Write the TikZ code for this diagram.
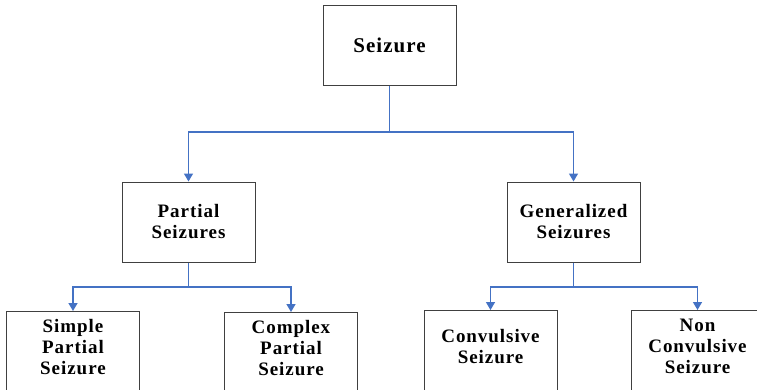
\documentclass[tikz,border=0pt]{standalone}
\usepackage{fontspec}
\setmainfont{Liberation Serif}
\newfontfamily\boxfont[LetterSpace=5]{Liberation Serif}
\usepackage{xcolor}
\definecolor{linkblue}{RGB}{68, 114, 196}
\definecolor{boxgray}{RGB}{64, 64, 64}
\usetikzlibrary{arrows.meta, positioning}

\begin{document}
\begin{tikzpicture}[x=1pt, y=-1pt, >={Triangle[width=9pt, length=8pt]},
    box/.style={draw=boxgray, line width=1pt, minimum width=133pt, minimum height=80pt, inner sep=0pt},
    leafbox/.style={box, anchor=north, minimum height=110pt},
    label text/.style={font=\boxfont\fontsize{19}{21}\selectfont\bfseries, align=center},
    link/.style={draw=linkblue, line width=1.4pt}]
    \useasboundingbox (0,0) rectangle (757,389);
    \clip (0,0) rectangle (757,389);

    % top and middle boxes
    \node[box, label text, font=\boxfont\fontsize{21}{23}\selectfont\bfseries] (seizure) at (389.5, 45.5) {Seizure};
    \node[box, label text] (partial) at (188.5, 222) {Partial\\Seizures};
    \node[box, label text] (general) at (573.5, 222) {Generalized\\Seizures};

    % bottom boxes, cut off by the page edge
    \node[leafbox] (simple) at (73, 311) {};
    \node[leafbox] (complex) at (291, 312) {};
    \node[leafbox] (convulsive) at (490.5, 310) {};
    \node[leafbox] (nonconv) at (697.5, 310) {};
    \node[label text] (simple text) at (73, 347) {Simple\\Partial\\Seizure};
    \node[label text] (complex text) at (291, 348) {Complex\\Partial\\Seizure};
    \node[label text] (convulsive text) at (490.5, 347) {Convulsive\\Seizure};
    \node[label text] (nonconv text) at (697.5, 346) {Non\\Convulsive\\Seizure};

    % connectors
    \coordinate (top split) at (389.5, 132);
    \coordinate (left split) at (188.5, 287);
    \coordinate (right split) at (573.5, 287);
    \draw[link] (seizure.south) -- (top split);
    \draw[link, ->] (top split) -| (partial.north);
    \draw[link, ->] (top split) -| (general.north);
    \draw[link] (partial.south) -- (left split);
    \draw[link, ->] (left split) -| (simple.north);
    \draw[link, ->] (left split) -| (complex.north);
    \draw[link] (general.south) -- (right split);
    \draw[link, ->] (right split) -| (convulsive.north);
    \draw[link, ->] (right split) -| (nonconv.north);
\end{tikzpicture}
\end{document}
